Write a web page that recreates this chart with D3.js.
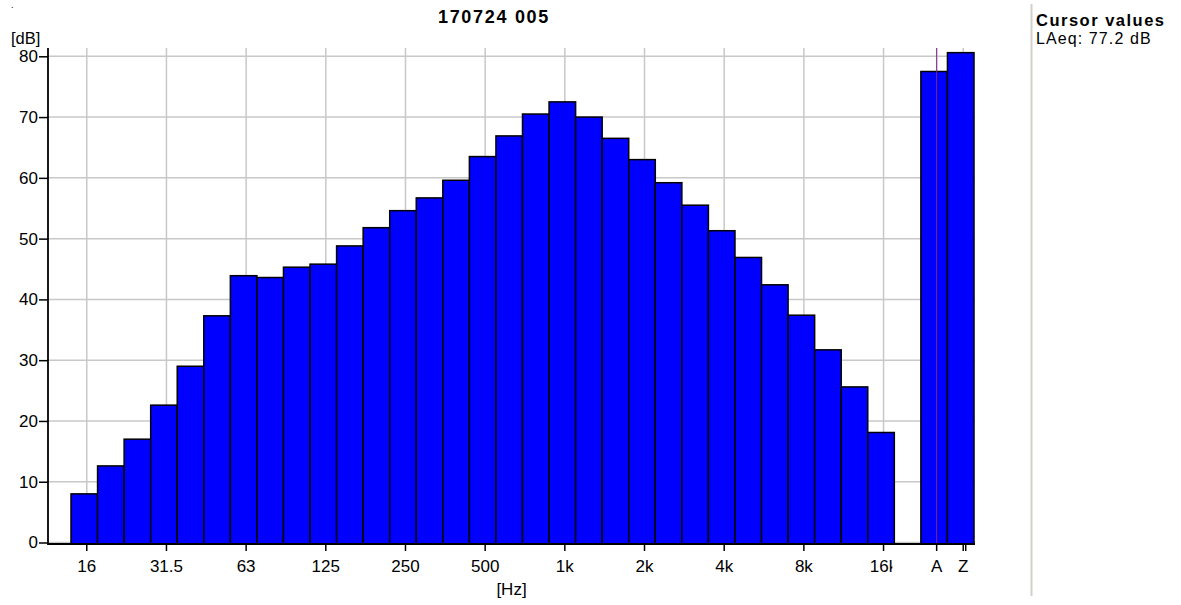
<!DOCTYPE html>
<html lang="en">
<head>
<meta charset="UTF-8">
<title>170724 005</title>
<script src="https://cdn.jsdelivr.net/npm/d3@7"></script>
<style>
    body { margin: 0; background: #fff; }
    svg { display: block; font-family: Arial, "Liberation Sans", sans-serif; }
</style>
</head>
<body>
<script>
    // 1/3 octave bands and their levels [dB]
    var freqs = ['16', '20', '25', '31.5', '40', '50', '63', '80', '100', '125', '160', '200', '250',
        '315', '400', '500', '630', '800', '1k', '1.25k', '1.6k', '2k', '2.5k', '3.15k', '4k', '5k',
        '6.3k', '8k', '10k', '12.5k', '16k'];
    var levels = [8.0, 12.6, 17.0, 22.6, 29.0, 37.3, 43.9, 43.6, 45.3, 45.8, 48.8, 51.8, 54.6,
        56.7, 59.6, 63.5, 66.9, 70.5, 72.5, 70.0, 66.5, 63.0, 59.2, 55.5, 51.3, 46.9,
        42.4, 37.4, 31.7, 25.6, 18.1];
    // broadband A / Z
    var totals = ['A', 'Z'];
    var totalLevels = [77.5, 80.6];
    var tickLabels = ['16', '31.5', '63', '125', '250', '500', '1k', '2k', '4k', '8k', '16k', 'A', 'Z'];
    var yTicks = [0, 10, 20, 30, 40, 50, 60, 70, 80];
    var cursorBand = 'A';
    var cursorText = 'LAeq: 77.2 dB';

    var W = 1181, H = 605;
    var plot = { left: 48, right: 975, top: 48, bottom: 544 };

    var svg = d3.select('body').append('svg')
        .attr('width', W)
        .attr('height', H);

    var x = d3.scaleBand()
        .domain(freqs.concat([' '], totals))
        .range([71, 974])
        .padding(0);

    var y = d3.scaleLinear()
        .domain([0, 80])
        .range([542.5, 56.3]);

    var tickX = function (d) { return x(d) + x.bandwidth() / 2 + 2.5; };

    // grid
    var grid = svg.append('g').attr('stroke', '#c8c8c8').attr('stroke-width', 1.5);
    grid.selectAll('line.h').data(yTicks).enter().append('line')
        .attr('x1', plot.left).attr('x2', plot.right)
        .attr('y1', d => y(d)).attr('y2', d => y(d));
    grid.selectAll('line.v').data(tickLabels).enter().append('line')
        .attr('x1', tickX).attr('x2', tickX)
        .attr('y1', plot.top).attr('y2', plot.bottom);

    // bars
    var bars = freqs.map((f, i) => ({ k: f, v: levels[i] }))
        .concat(totals.map((t, i) => ({ k: t, v: totalLevels[i] })));

    svg.append('g').selectAll('rect').data(bars).enter().append('rect')
        .attr('x', d => x(d.k))
        .attr('width', x.bandwidth())
        .attr('y', d => y(d.v))
        .attr('height', d => plot.bottom - y(d.v))
        .attr('fill', '#0000ff')
        .attr('stroke', '#000')
        .attr('stroke-width', 1.5);

    // cursor
    svg.append('line')
        .attr('x1', tickX(cursorBand)).attr('x2', tickX(cursorBand))
        .attr('y1', plot.top).attr('y2', plot.bottom)
        .attr('stroke', '#7a2a8a').attr('stroke-width', 1);

    // y axis
    var yAxis = d3.axisLeft(y).tickValues(yTicks).tickSize(9).tickPadding(1);
    var gy = svg.append('g')
        .attr('transform', 'translate(' + plot.left + ',0)')
        .call(yAxis);
    gy.select('.domain').remove();
    gy.selectAll('.tick line').attr('stroke', '#000').attr('stroke-width', 1.5);
    gy.selectAll('.tick text').attr('font-size', 17).attr('fill', '#000')
        .attr('font-family', 'Arial, "Liberation Sans", sans-serif');
    svg.append('line')
        .attr('x1', plot.left).attr('x2', plot.left)
        .attr('y1', plot.top).attr('y2', plot.bottom + 1)
        .attr('stroke', '#000').attr('stroke-width', 1.8);

    // x axis
    svg.append('line')
        .attr('x1', plot.left).attr('x2', plot.right)
        .attr('y1', plot.bottom).attr('y2', plot.bottom)
        .attr('stroke', '#000').attr('stroke-width', 1.8);

    var xt = svg.append('g');
    xt.selectAll('line').data(tickLabels).enter().append('line')
        .attr('x1', tickX).attr('x2', tickX)
        .attr('y1', plot.bottom).attr('y2', plot.bottom + 7)
        .attr('stroke', '#000').attr('stroke-width', 1.5);
    xt.append('line')
        .attr('x1', tickX('Z') + 2.5).attr('x2', tickX('Z') + 2.5)
        .attr('y1', plot.bottom).attr('y2', plot.bottom + 7)
        .attr('stroke', '#000').attr('stroke-width', 1.5);

    svg.append('clipPath').attr('id', 'lblclip')
        .append('rect').attr('x', 0).attr('y', 0)
        .attr('width', x(' ') - 2).attr('height', H);

    xt.selectAll('text').data(tickLabels).enter().append('text')
        .attr('x', tickX)
        .attr('y', 572)
        .attr('text-anchor', 'middle')
        .attr('font-size', 17)
        .attr('clip-path', d => totals.indexOf(d) < 0 ? 'url(#lblclip)' : null)
        .text(d => d);

    // labels
    svg.append('text').attr('x', 11).attr('y', 44).attr('font-size', 16.5).text('[dB]');
    svg.append('text').attr('x', (plot.left + plot.right) / 2).attr('y', 595)
        .attr('text-anchor', 'middle').attr('font-size', 17).text('[Hz]');
    svg.append('text').attr('x', 11).attr('y', 8).attr('font-size', 9).text('.');

    svg.append('text').attr('x', 494).attr('y', 23)
        .attr('text-anchor', 'middle')
        .attr('font-size', 18).attr('font-weight', 'bold')
        .attr('letter-spacing', 1.7)
        .text('170724 005');

    // side panel
    svg.append('line')
        .attr('x1', 1031.5).attr('x2', 1031.5)
        .attr('y1', 4).attr('y2', 596)
        .attr('stroke', '#d4d0c8').attr('stroke-width', 2);
    svg.append('text').attr('x', 1036).attr('y', 26)
        .attr('font-size', 16.5).attr('font-weight', 'bold')
        .attr('letter-spacing', 1.5)
        .text('Cursor values');
    svg.append('text').attr('x', 1036).attr('y', 44)
        .attr('font-size', 16).attr('letter-spacing', 1.1)
        .text(cursorText);
</script>
</body>
</html>
